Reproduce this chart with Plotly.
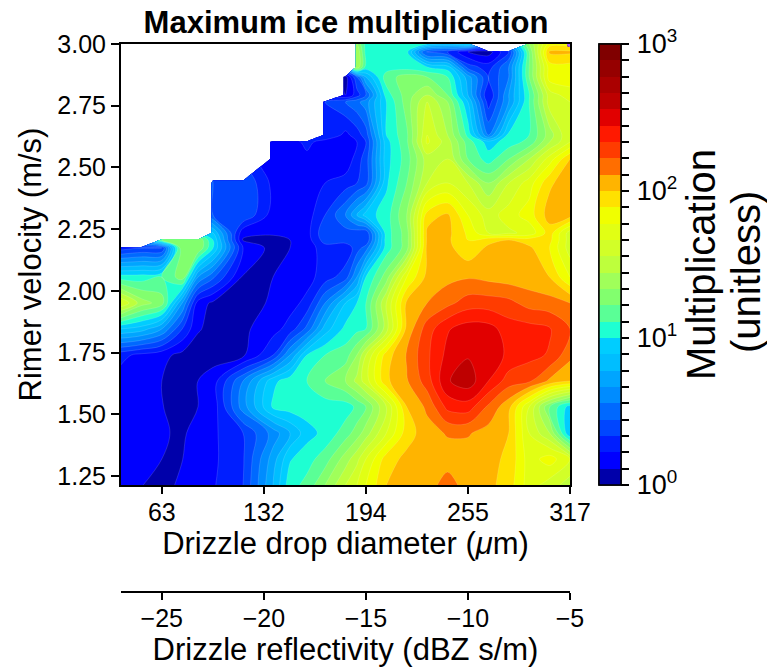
import plotly.graph_objects as go

N = None
# reflectivity grid (dBZ s/m)
reflectivity = [-27, -26, -25, -24, -23.23, -22.49, -21.02, -19.55, -18.72, -17.89, -17, -16, -15.44, -15, -14, -13, -12, -11, -10, -9, -8, -7, -6, -5]
# rimer velocity grid (m/s)
rimer_velocity = [1.214, 1.319, 1.424, 1.530, 1.635, 1.740, 1.846, 1.951, 2.056, 2.174, 2.206, 2.235, 2.307,
                  2.437, 2.534, 2.603, 2.631, 2.765, 2.793, 2.866, 2.907, 2.968, 3.0]
# maximum multiplication, as log10 in ninths of a decade (9 = 10, 18 = 100, 27 = 1000)
r01 = [1.5, 1.05, .5, 1.3, 1.5, 1.9, 3, 7, 9.6, 10.3, 12, 14, 15, 16, 18, 18.5, 18.5, 19.5, 18.5, 18.3, 17.5, 15.5, 14.5, 13.5]
r02 = [1.5, 1.5, 1, .98, 1.4, 1.8, 2.9, 6.5, 8.9, 9.6, 10.5, 12.5, 13.7, 15, 17.5, 18.3, 18.5, 18.5, 18.5, 18.3, 17.8, 15.5, 16.5, 15]
r03 = [1.5, 1.5, 1.1, .85, 1.4, 1.8, 3, 5.4, 7, 8.6, 9.3, 10.5, 11.5, 12.5, 15, 17.5, 18.6, 19.1, 19.1, 18.6, 18, 15, 13, 8]
r04 = [1.5, 1.5, 1.05, .5, 1, 1.4, 5.5, 9.2, 9.5, 9.5, 9.5, 9.5, 10.2, 11, 14, 18, 19.2, 21.3, 21.5, 19.8, 18.3, 15, 11, 8.5]
r05 = [1.5, 1.5, 1, .5, 1, 1.5, 5, 8.7, 9.6, 10, 11, 12, 13.3, 14.5, 17.8, 18.9, 20.5, 22.9, 23.6, 22, 20.5, 20.2, 18.8, 18]
r06 = [2.3, 1.7, 1.3, .7, .5, .55, .8, 3, 6, 9, 10, 10.5, 12, 14, 17.5, 19.1, 20.8, 22.3, 22.9, 22.6, 21.8, 21.3, 20.9, 19.3]
r07 = [8, 7.5, 6, 3, 1.1, .7, .8, 1.6, 2.4, 4.3, 7.5, 9.3, 9.7, 10, 13.5, 18.3, 20.5, 21.9, 22.5, 22.4, 21.5, 21.4, 21.1, 20]
r08 = [15, 12.5, 11.5, 6, 1.5, .8, .4, 1.2, 1.6, 2.3, 5, 8, 9, 10, 14, 18.2, 19, 19.7, 20.5, 20.5, 20.3, 19.6, 19.4, 19]
r09 = [9.5, 9.5, 10, 11.5, 6, 4.2, .9, 1, 1.4, 1.6, 2.5, 3.5, 6, 9, 11.5, 16, 18.3, 18.7, 18.9, 18.7, 18.5, 18.4, 18, 16]
r10 = [2.5, 3, 3, 12, 12, 9, 2, .6, 1, 1.5, 2.5, 2.3, 3.5, 4.5, 9.5, 11.5, 18.3, 18.3, 17.3, 18.2, 18.3, 18.2, 17, 14.5]
r11 = [N, N, 11, 12, 12, 9, .9, .6, 1, 1.5, 3.5, 3.5, 3.3, 3, 9.5, 11.5, 18.2, 18.2, 17, 17.7, 18, 17.5, 17.3, 14.5]
r12 = [N, N, N, N, N, 8, 1.3, 1.2, 1.4, 1.6, 3.8, 3.6, 3.4, 3.2, 9.5, 11.5, 18.2, 18.3, 16.8, 15, 14.8, 15.3, 17.5, 14.5]
r13 = [N, N, N, N, N, 4, 4, 1.5, 1.5, 1.5, 3, 5, 7, 8.5, 9.5, 12, 17.5, 18.2, 16, 14.5, 15.5, 16.5, 18.5, 18.5]
r14 = [N, N, N, N, N, 4, 4, 1.7, 1.5, 1.5, 2, 2.5, 3, 3.5, 8.8, 11, 14, 15, 14, 12, 14, 15.5, 17.8, 18.7]
r15 = [N, N, N, N, N, N, N, 1, 1.5, 1.7, 2, 1.2, 2.5, 3.5, 8.6, 10.5, 13.5, 14, 11, 9.5, 11, 13, 15.5, 18]
r16 = [N, N, N, N, N, N, N, 1.3, 1.5, 2.3, 1.5, 1.3, 2, 3, 8.6, 10.8, 15.2, 13.5, 10.5, 8.5, 9.5, 10.3, 13, 15]
r17 = [N, N, N, N, N, N, N, N, N, N, 3, 1.7, 2.5, 3.5, 9, 10.8, 15, 13, 9.7, 5, 9.3, 10, 12.5, 15]
r18 = [N, N, N, N, N, N, N, N, N, N, 3, 4, 4.7, 5.5, 9, 11.5, 14, 12, 8, 2.5, 6, 10, 14.5, 15]
r19 = [N, N, N, N, N, N, N, N, N, N, N, 1, 2.5, 4, 9.5, 11.5, 13, 11, 7, 2, 6, 9.9, 14.5, 15.5]
r20 = [N, N, N, N, N, N, N, N, N, N, N, .5, 4, 7, 10.5, 11.5, 11, 10, 6.5, 3, 5, 11, 16.5, 16.6]
r21 = [N, N, N, N, N, N, N, N, N, N, N, N, 13, 9.6, 9.5, 9.5, 9, 8.5, 3.5, 2.5, 5, 11, 16.5, 16.6]
r22 = [N, N, N, N, N, N, N, N, N, N, N, N, 13, 9.6, 9.5, 9.3, 3.5, 3, 1, .5, 3, 11, 18.2, 18.2]
r23 = [N, N, N, N, N, N, N, N, N, N, N, N, 12, 9.6, 9.5, 9.5, 9, 8, 9, N, N, 12, 16.5, 16.5]
multiplication_ninths = [r01, r02, r03, r04, r05, r06, r07, r08, r09, r10, r11, r12, r13, r14, r15, r16, r17, r18,
                         r19, r20, r21, r22, r23]

band_colors = ["#0000aa", "#0000ff", "#001eff", "#0046ff", "#0069ff", "#008cff", "#00a5ff", "#00beff", "#00cdff",
               "#1effd2", "#5aff96", "#82ff6e", "#a0ff5a", "#beff3c", "#d2ff28", "#e1ff14", "#f0ff00", "#ffe100",
               "#ffb400", "#ff6e00", "#ff3c00", "#ff1900", "#e10000", "#be0000", "#aa0000", "#960000", "#800000"]

x_tick_vals = [-25, -20, -15, -10, -5]
diameter_labels = ["63", "132", "194", "255", "317"]
y_tick_vals = [1.25, 1.5, 1.75, 2.0, 2.25, 2.5, 2.75, 3.0]
y_tick_text = ["1.25", "1.50", "1.75", "2.00", "2.25", "2.50", "2.75", "3.00"]
cbar_major_vals = [0, 9, 18, 27]
cbar_major_text = ["10<sup>0</sup>", "10<sup>1</sup>", "10<sup>2</sup>", "10<sup>3</sup>"]
cbar_minor_vals = list(range(28))

FONT = "Liberation Sans"
W, H = 767, 669
L, R, T, B = 121, 570, 44, 485
AX2 = 592
BAR = 599
TEXT = 31
TICK = 25

n = len(band_colors)
# contour fill of band k is sampled at (k+1)/28
contour_scale = [[0, band_colors[0]]] + [[(k + 1) / (n + 1), band_colors[k]] for k in range(n)] + [[1, band_colors[-1]]]
# stepped scale for the colour bar
bar_scale = []
for k in range(n):
    bar_scale += [[k / n, band_colors[k]], [(k + 1) / n, band_colors[k]]]

cbar_common = dict(
    x=(BAR - L) / (R - L), xanchor="left", xpad=0, y=1, yanchor="top", ypad=0,
    len=(B - T) / (AX2 - T), lenmode="fraction", thickness=22, thicknessmode="pixels",
    outlinewidth=1.5, outlinecolor="black", tickmode="array",
)

fig = go.Figure()
fig.add_trace(go.Contour(
    x=reflectivity, y=rimer_velocity, z=multiplication_ninths,
    colorscale=contour_scale, autocontour=False, showscale=False,
    contours=dict(start=0, end=27, size=1, coloring="fill", showlines=True),
    line=dict(width=0.4, color="rgba(255,255,255,0.35)"),
    connectgaps=False,
))
# colour bar with the decade labels
fig.add_trace(go.Scatter(
    x=[-5, -5], y=[3.0, 3.0], mode="markers", showlegend=False, hoverinfo="skip",
    marker=dict(size=0, color=[0, 27], cmin=0, cmax=27, colorscale=bar_scale, showscale=True, colorbar=dict(
        **cbar_common, tickvals=cbar_major_vals, ticktext=cbar_major_text,
        ticks="outside", ticklen=10, tickwidth=1, tickcolor="rgba(0,0,0,0)",
        tickfont=dict(family=FONT, size=TICK + 2, color="black"),
        title=dict(text="Multiplication", side="right", font=dict(family=FONT, size=40, color="black")),
    )),
))
# same bar with a tick at each contour level
fig.add_trace(go.Scatter(
    x=[-5, -5], y=[3.0, 3.0], mode="markers", showlegend=False, hoverinfo="skip",
    marker=dict(size=0, color=[0, 27], cmin=0, cmax=27, colorscale=bar_scale, showscale=True, colorbar=dict(
        **cbar_common, tickvals=cbar_minor_vals, showticklabels=False,
        ticks="outside", ticklen=8, tickwidth=1.5, tickcolor="black",
    )),
))
fig.add_trace(go.Scatter(x=[-5], y=[3.0], xaxis="x2", mode="markers", marker=dict(size=0), showlegend=False,
                         hoverinfo="skip"))

axis_font = dict(family=FONT, size=TICK, color="black")
title_font = dict(family=FONT, size=TEXT, color="black")
fig.update_layout(
    width=W, height=H, autosize=False, paper_bgcolor="white", plot_bgcolor="white",
    margin=dict(l=L, r=W - R, t=T, b=H - AX2, pad=0, autoexpand=False),
    font=dict(family=FONT, color="black"),
    title=dict(text="<b>Maximum ice multiplication</b>", x=346 / W, xref="container", xanchor="center",
               y=1 - 22 / H, yref="container", yanchor="middle", font=dict(family=FONT, size=TEXT, color="black")),
    annotations=[dict(text="(unitless)", textangle=-90, showarrow=False, xref="paper", yref="paper",
                      x=(746 - L) / (R - L), y=(AX2 - 272) / (AX2 - T), xanchor="center", yanchor="middle",
                      font=dict(family=FONT, size=40, color="black"))],
    xaxis=dict(range=[-27, -5], tickmode="array", tickvals=x_tick_vals, ticktext=diameter_labels, ticks="outside",
               ticklen=7, tickwidth=2, tickcolor="black", showline=True, linewidth=2, linecolor="black", mirror=True,
               showgrid=False, zeroline=False, tickfont=axis_font, ticklabelstandoff=-3,
               title=dict(text="Drizzle drop diameter (<i>μ</i>m)", standoff=0, font=title_font),
               anchor="y"),
    xaxis2=dict(range=[-27, -5], overlaying="x", side="bottom", anchor="free", position=0, tickmode="array",
                tickvals=x_tick_vals, ticks="outside", ticklen=7, tickwidth=1.5, tickcolor="black", showline=True,
                linewidth=1.5, linecolor="black", showgrid=False, zeroline=False, ticklabelstandoff=-3,
                tickfont=axis_font,
                title=dict(text="Drizzle reflectivity (dBZ s/m)", standoff=3, font=title_font)),
    yaxis=dict(domain=[(AX2 - B) / (AX2 - T), 1], range=[3 - (B - T) / 246.9, 3.0], tickmode="array", tickvals=y_tick_vals,
               ticktext=y_tick_text, ticks="outside", ticklen=8, tickwidth=2, tickcolor="black", showline=True,
               linewidth=2, linecolor="black", mirror=True, showgrid=False, zeroline=False,
               tickfont=axis_font,
               title=dict(text="Rimer velocity (m/s)", standoff=6, font=title_font)),
)
fig.write_html("out.html", config={"displayModeBar": False},
               post_script="document.body.style.margin='0';document.body.style.overflow='hidden';")
